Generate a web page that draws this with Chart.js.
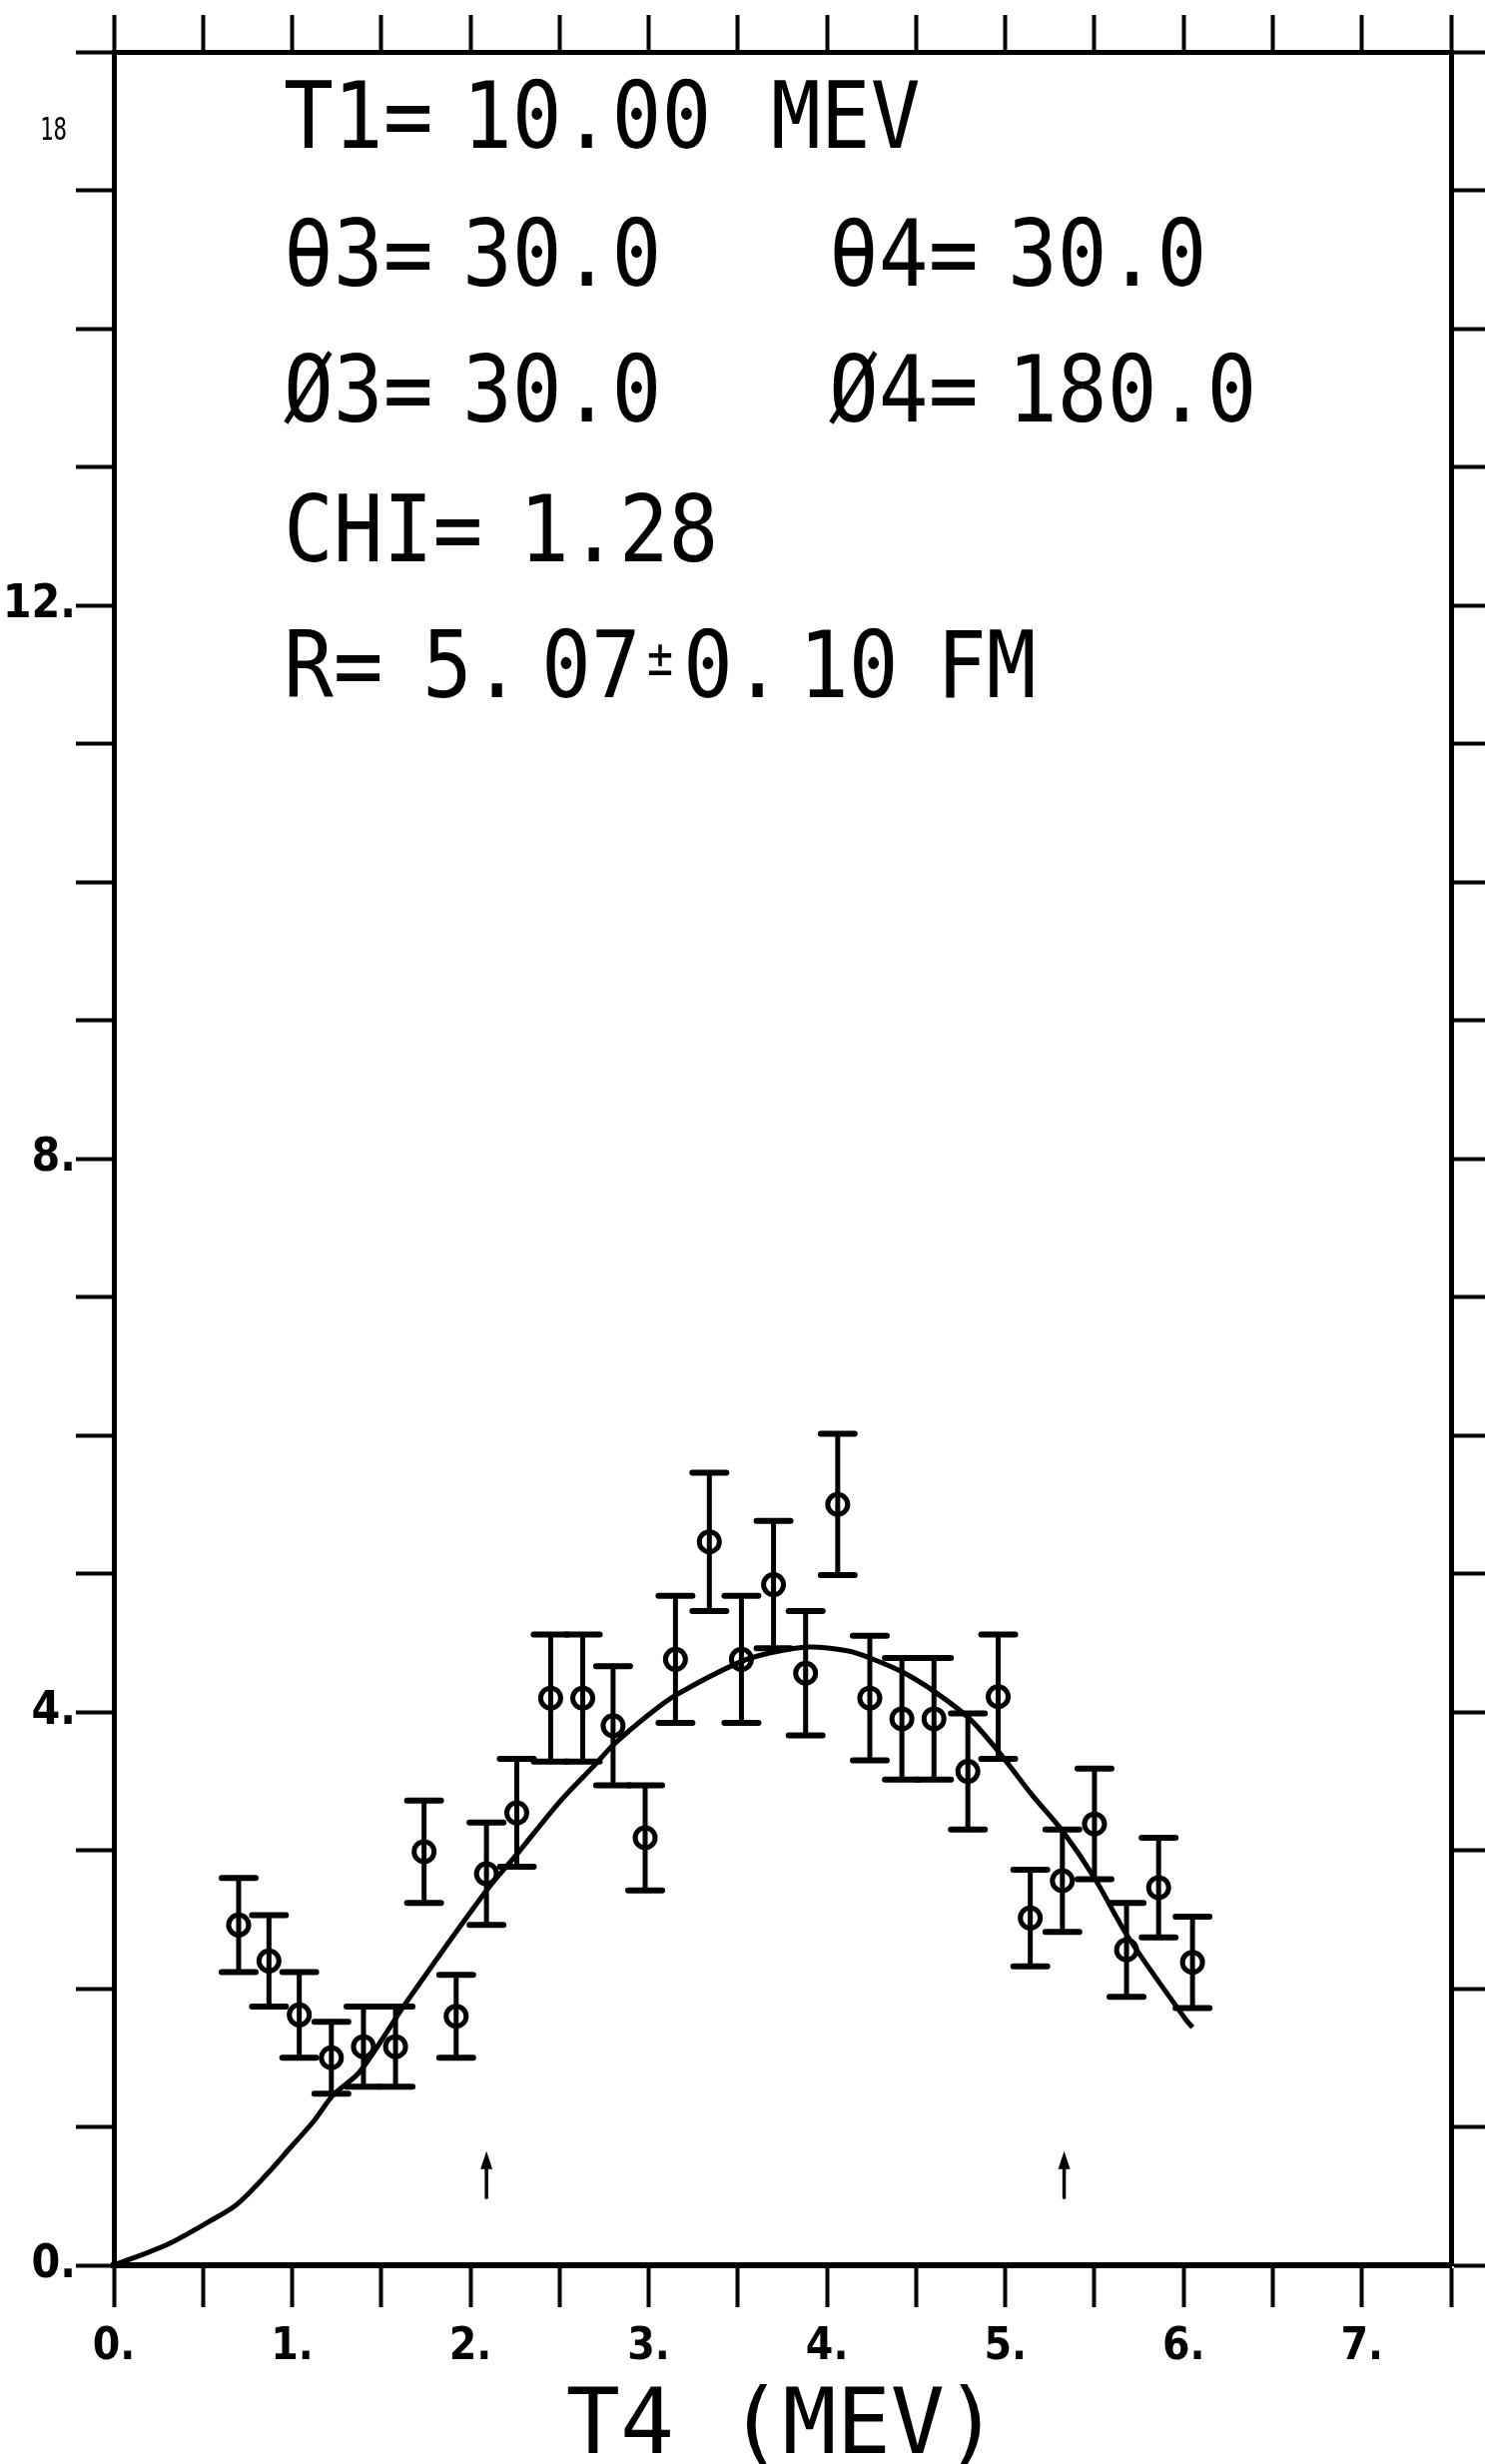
<!DOCTYPE html>
<html>
<head>
<meta charset="utf-8">
<title>T4 (MEV)</title>
<script src="https://cdn.jsdelivr.net/npm/chart.js@4.4.1/dist/chart.umd.min.js"></script>
<style>
  html, body { margin: 0; padding: 0; background: #fff; }
  canvas { display: block; }
</style>
</head>
<body>
<canvas id="plot" width="1487" height="2467"></canvas>
<script>
// measured points: T4 (MeV), yield, error
const t4 = [0.70, 0.87, 1.04, 1.22, 1.40, 1.58, 1.74, 1.92, 2.09, 2.26, 2.45, 2.63, 2.80, 2.98, 3.15, 3.34,
  3.52, 3.70, 3.88, 4.06, 4.24, 4.42, 4.60, 4.79, 4.96, 5.14, 5.32, 5.50, 5.68, 5.86, 6.05];
const yields = [2.46, 2.20, 1.81, 1.50, 1.58, 1.58, 2.99, 1.80, 2.83, 3.27, 4.10, 4.10, 3.90, 3.09, 4.38, 5.23,
  4.38, 4.92, 4.28, 5.50, 4.10, 3.95, 3.95, 3.57, 4.11, 2.51, 2.78, 3.19, 2.28, 2.73, 2.19];
const errors = [0.34, 0.33, 0.31, 0.26, 0.29, 0.29, 0.37, 0.30, 0.37, 0.39, 0.46, 0.46, 0.43, 0.38, 0.46, 0.50,
  0.46, 0.46, 0.45, 0.51, 0.45, 0.44, 0.44, 0.42, 0.45, 0.35, 0.37, 0.40, 0.34, 0.36, 0.33];

// fitted curve
const fitX = [0, 0.30, 0.54, 0.69, 0.86, 0.99, 1.12, 1.23, 1.38, 1.64, 2.09, 2.26, 2.50, 2.70, 2.80, 3.00,
  3.15, 3.51, 3.69, 3.90, 4.12, 4.24, 4.42, 4.61, 4.80, 4.97, 5.15, 5.32, 5.50, 5.69, 6.01, 6.05];
const fitY = [0, 0.15, 0.32, 0.44, 0.66, 0.85, 1.04, 1.23, 1.40, 1.90, 2.71, 2.97, 3.35, 3.62, 3.76, 3.98,
  4.12, 4.36, 4.43, 4.47, 4.44, 4.39, 4.29, 4.14, 3.95, 3.70, 3.40, 3.14, 2.80, 2.37, 1.78, 1.72];

// markers under the axis
const arrowX = [2.09, 5.33];
const arrowLow = 0.49, arrowHigh = 0.81;

const xLabels = ['0.', '1.', '2.', '3.', '4.', '5.', '6.', '7.'];
const yLabels = { 0: '0.', 4: '4.', 8: '8.', 12: '12.' };

const notes = [
  ['T1=', 284, 148], ['10.00', 463, 148], ['MEV', 772, 148],
  ['θ3=', 284, 286], ['30.0', 463, 286], ['θ4=', 830, 286], ['30.0', 1009, 286],
  ['Ø3=', 284, 422], ['30.0', 463, 422], ['Ø4=', 830, 422], ['180.0', 1009, 422],
  ['CHI=', 284, 562], ['1.28', 520, 562],
  ['R=', 284, 698], ['5.', 423, 698], ['07', 542, 698], ['0.', 684, 698], ['10', 800, 698], ['FM', 938, 698]
];

const labelFont = "'Liberation Sans Narrow', 'DejaVu Sans Condensed', 'DejaVu Sans'";
const plotFont = "'DejaVu Sans Mono'";

function condensed(ctx, text, x, y, size, sx) {
  ctx.save();
  ctx.font = size + 'px ' + plotFont;
  ctx.textBaseline = 'alphabetic';
  ctx.textAlign = 'left';
  ctx.translate(x, y);
  ctx.scale(sx, 1);
  ctx.fillText(text, 0, 0);
  ctx.restore();
}

const extras = {
  id: 'extras',
  afterDatasetsDraw(chart) {
    const { ctx, scales: { x, y } } = chart;
    ctx.save();
    ctx.strokeStyle = '#000';
    ctx.lineCap = 'round';
    t4.forEach((v, i) => {
      const px = x.getPixelForValue(v);
      const top = y.getPixelForValue(yields[i] + errors[i]);
      const bot = y.getPixelForValue(yields[i] - errors[i]);
      ctx.lineWidth = 5;
      ctx.beginPath();
      ctx.moveTo(px, top);
      ctx.lineTo(px, bot);
      ctx.stroke();
      ctx.lineWidth = 6;
      ctx.beginPath();
      ctx.moveTo(px - 17, top); ctx.lineTo(px + 17, top);
      ctx.moveTo(px - 17, bot); ctx.lineTo(px + 17, bot);
      ctx.stroke();
    });
    // arrows
    ctx.lineWidth = 3.5;
    ctx.fillStyle = '#000';
    arrowX.forEach(v => {
      const px = x.getPixelForValue(v);
      const hi = y.getPixelForValue(arrowHigh);
      const lo = y.getPixelForValue(arrowLow);
      ctx.beginPath();
      ctx.moveTo(px, lo); ctx.lineTo(px, hi + 8);
      ctx.stroke();
      ctx.beginPath();
      ctx.moveTo(px, hi - 2); ctx.lineTo(px - 6, hi + 16); ctx.lineTo(px + 6, hi + 16);
      ctx.closePath();
      ctx.fill();
    });
    ctx.restore();
  },
  afterDraw(chart) {
    const { ctx, scales: { y } } = chart;
    ctx.save();
    ctx.fillStyle = '#000';
    notes.forEach(([t, px, py]) => condensed(ctx, t, px, py, 92, 0.9));
    condensed(ctx, '±', 648, 676, 54, 0.8);
    // small handwritten label near the top of the y axis
    condensed(ctx, '18', 40, y.getPixelForValue(15.45) + 12, 32, 0.7);
    ctx.restore();
  }
};

const pointData = t4.map((v, i) => ({ x: v, y: yields[i] }));
const fitData = fitX.map((v, i) => ({ x: v, y: fitY[i] }));

const axisTicks = { color: '#000', tickColor: '#000', tickWidth: 4, drawOnChartArea: false, drawTicks: true };

new Chart(document.getElementById('plot').getContext('2d'), {
  type: 'scatter',
  data: {
    datasets: [
      {
        type: 'line',
        data: fitData,
        borderColor: '#000',
        borderWidth: 5,
        pointRadius: 0,
        fill: false,
        tension: 0.3
      },
      {
        data: pointData,
        pointStyle: 'circle',
        pointRadius: 10,
        pointBorderWidth: 5,
        pointBorderColor: '#000',
        pointBackgroundColor: 'rgba(0,0,0,0)'
      }
    ]
  },
  options: {
    responsive: false,
    animation: false,
    layout: { padding: 0 },
    plugins: { legend: { display: false }, tooltip: { enabled: false } },
    scales: {
      x: {
        type: 'linear', position: 'bottom', min: 0, max: 7.5,
        afterFit: s => { s.height = 199; },
        ticks: {
          stepSize: 0.5, autoSkip: false, maxRotation: 0, padding: 14, color: '#000',
          font: { family: labelFont, size: 44, weight: 'bold' },
          callback: v => Number.isInteger(v) ? (xLabels[v] || '') : ''
        },
        grid: { ...axisTicks, tickLength: 42 },
        border: { display: true, color: '#000', width: 6 },
        title: {
          display: true, text: 'T4 (MEV)', color: '#000',
          font: { family: plotFont, size: 90, lineHeight: 0.6 },
          padding: { top: 0, bottom: 7 }
        }
      },
      x2: {
        type: 'linear', position: 'top', min: 0, max: 7.5,
        afterFit: s => { s.height = 52; },
        ticks: { stepSize: 0.5, autoSkip: false, display: false },
        grid: { ...axisTicks, tickLength: 37 },
        border: { display: true, color: '#000', width: 5 }
      },
      y: {
        type: 'linear', position: 'left', min: 0, max: 16,
        afterFit: s => { s.width = 114; },
        ticks: {
          stepSize: 1, autoSkip: false, padding: 0, color: '#000',
          font: { family: labelFont, size: 46, weight: 'bold' },
          callback: v => yLabels[v] || ''
        },
        grid: { ...axisTicks, tickLength: 38 },
        border: { display: true, color: '#000', width: 5 }
      },
      y2: {
        type: 'linear', position: 'right', min: 0, max: 16,
        afterFit: s => { s.width = 34; },
        ticks: { stepSize: 1, autoSkip: false, display: false },
        grid: { ...axisTicks, tickLength: 34 },
        border: { display: true, color: '#000', width: 5 }
      }
    }
  },
  plugins: [extras]
});
</script>
</body>
</html>
